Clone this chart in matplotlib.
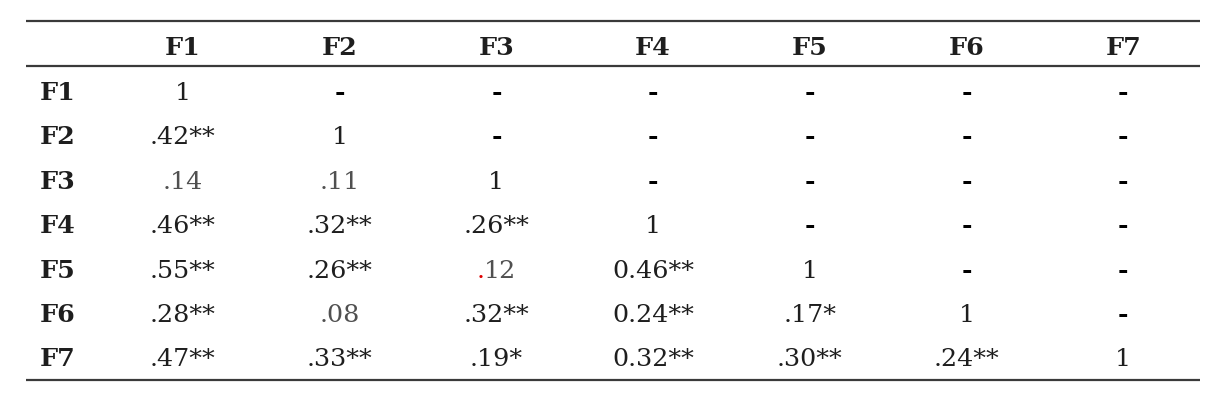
import matplotlib
matplotlib.use("Agg")
from matplotlib import pyplot as plt

# table content
col_labels = ["F1", "F2", "F3", "F4", "F5", "F6", "F7"]
row_labels = ["F1", "F2", "F3", "F4", "F5", "F6", "F7"]
cells = [
    ["1", "-", "-", "-", "-", "-", "-"],
    [".42**", "1", "-", "-", "-", "-", "-"],
    [".14", ".11", "1", "-", "-", "-", "-"],
    [".46**", ".32**", ".26**", "1", "-", "-", "-"],
    [".55**", ".26**", ".12", "0.46**", "1", "-", "-"],
    [".28**", ".08", ".32**", "0.24**", ".17*", "1", "-"],
    [".47**", ".33**", ".19*", "0.32**", ".30**", ".24**", "1"],
]
# cells printed in a lighter grey in the source
grey_cells = [(2, 0), (2, 1), (4, 2), (5, 1)]
# cell whose leading dot is red
red_dot_cells = [(4, 2)]

W, H = 1224, 409
FONT = "DejaVu Serif"
SIZE = 18.3
INK = "#1e1e1e"
GREY = "#505050"
RULE = "#3a3a3a"

fig = plt.figure(figsize=(W / 100, H / 100), dpi=100)
ax = fig.add_axes([0, 0, 1, 1])
ax.set_xlim(0, W)
ax.set_ylim(H, 0)
ax.axis("off")

# layout (pixels)
left, right = 26, 1200
label_x = 40
first_col, col_step = 183, 156.7
head_base = 55
first_row_base, row_step = 100, 44.4
rules_y = [21, 66, 380]

ax.hlines(rules_y, left, right, color=RULE, linewidth=1.6)

col_x = [first_col + j * col_step for j in range(len(col_labels))]

for j, lab in enumerate(col_labels):
    ax.text(col_x[j], head_base, lab, ha="center", va="baseline",
            fontsize=SIZE, fontweight="bold", family=FONT, color=INK)

fig.canvas.draw()
r = fig.canvas.get_renderer()


def text_w(s):
    t = ax.text(0, 0, s, fontsize=SIZE, family=FONT)
    w = t.get_window_extent(renderer=r).width
    t.remove()
    return w


for i, lab in enumerate(row_labels):
    yb = first_row_base + i * row_step
    ax.text(label_x, yb, lab, ha="left", va="baseline",
            fontsize=SIZE, fontweight="bold", family=FONT, color=INK)
    for j, val in enumerate(cells[i]):
        if val == "-":
            ax.text(col_x[j], yb, val, ha="center", va="baseline",
                    fontsize=SIZE, fontweight="bold", family=FONT, color="black")
            continue
        c = GREY if (i, j) in grey_cells else INK
        if (i, j) in red_dot_cells:
            # split into a red dot and the grey digits, centred together
            full = text_w(val)
            rest = text_w(val[1:])
            x0 = col_x[j] - full / 2
            ax.text(x0, yb, val[0], ha="left", va="baseline",
                    fontsize=SIZE, family=FONT, color="#e00000")
            ax.text(x0 + full - rest, yb, val[1:], ha="left", va="baseline",
                    fontsize=SIZE, family=FONT, color=c)
            continue
        ax.text(col_x[j], yb, val, ha="center", va="baseline",
                fontsize=SIZE, family=FONT, color=c)

fig.savefig("out.png", dpi=100)
